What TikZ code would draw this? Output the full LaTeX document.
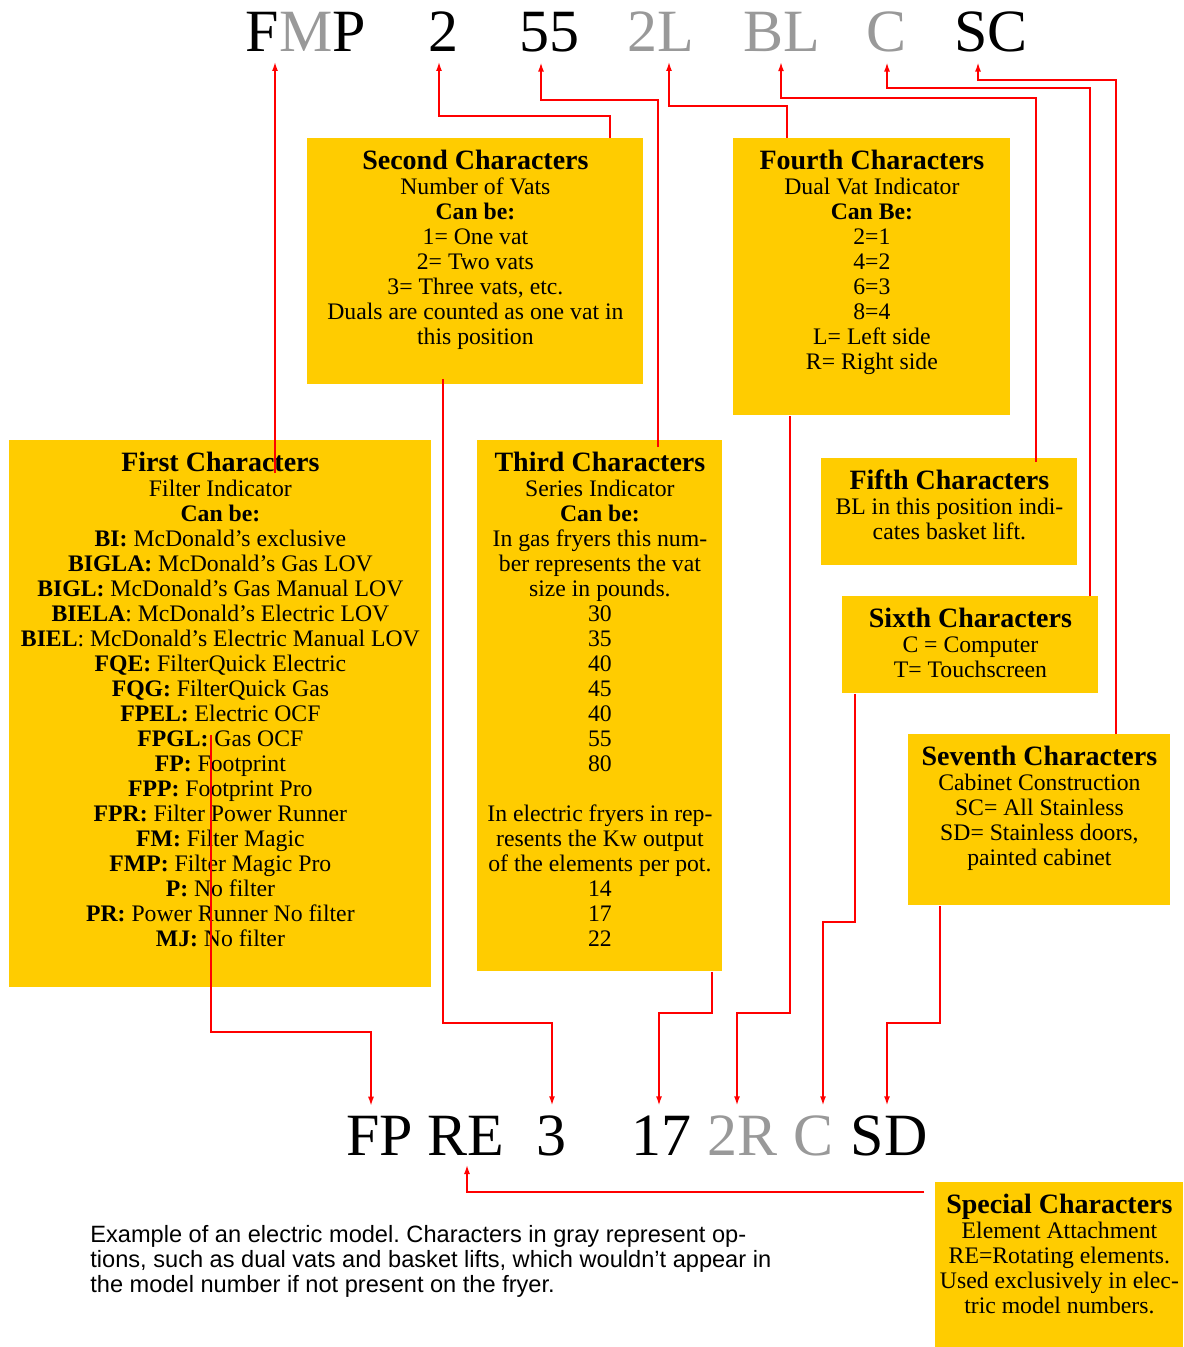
\documentclass[tikz,border=0pt]{standalone}
\usepackage{fontspec}
\setmainfont{Liberation Serif}
\newfontfamily\notefont{Liberation Sans}
\usetikzlibrary{arrows.meta,calc}
\definecolor{cardyellow}{RGB}{255,204,0}
\definecolor{optgray}{RGB}{153,153,153}
\newcommand{\cardtitle}[1]{{\fontsize{14}{14}\selectfont\bfseries #1}}
\frenchspacing

\begin{document}
\begin{tikzpicture}[x=0.5pt,y=-0.5pt,
  card/.style={fill=cardyellow, anchor=north west, inner sep=0pt},
  cardtext/.style={anchor=north, inner xsep=0pt, inner ysep=5.8pt, align=center,
    font=\fontsize{11.85}{12.5}\selectfont},
  bigchar/.style={anchor=base, inner sep=0pt, outer sep=5pt,
    font=\fontsize{30}{30}\selectfont},
  opt/.style={bigchar, text=optgray},
  link/.style={draw=red, line width=0.75pt, -{Latex[length=4.5pt,width=3pt]}}]
  \useasboundingbox (0,0) rectangle (1183,1347);

  % model number on top
  \node[bigchar] (tFMP) at (306,52) {F\textcolor{optgray}{M}P};
  \node[bigchar] (t2) at (443,52) {2};
  \node[bigchar] (t55) at (549,52) {55};
  \node[opt] (t2L) at (661,52) {2L};
  \node[opt] (tBL) at (782,52) {BL};
  \node[opt] (tC) at (886,52) {C};
  \node[bigchar] (tSC) at (991,52) {SC};

  % model number at the bottom
  \node[bigchar] (bFP) at (380,1155) {FP};
  \node[bigchar] (bRE) at (466,1155) {RE};
  \node[bigchar] (b3) at (551,1155) {3};
  \node[bigchar] (b17) at (661,1155) {17};
  \node[opt] (b2R) at (742,1155) {2R};
  \node[opt] (bC) at (813,1155) {C};
  \node[bigchar] (bSD) at (889,1155) {SD};

  % the cards
  \node[card, minimum width=211pt, minimum height=273.5pt] (first) at (9,440) {};
  \node[card, minimum width=168pt, minimum height=123pt] (second) at (307,138) {};
  \node[card, minimum width=122.5pt, minimum height=265.5pt] (third) at (477,440) {};
  \node[card, minimum width=138.5pt, minimum height=138.5pt] (fourth) at (733,138) {};
  \node[card, minimum width=128pt, minimum height=53.5pt] (fifth) at (821,458) {};
  \node[card, minimum width=128pt, minimum height=48.5pt] (sixth) at (842,596) {};
  \node[card, minimum width=131pt, minimum height=85.5pt] (seventh) at (908,734) {};
  \node[card, minimum width=124pt, minimum height=82.5pt] (special) at (935,1182) {};

  \node[cardtext] (firsttext) at (first.north) {\cardtitle{First Characters}\\
    Filter Indicator\\ \textbf{Can be:}\\
    \textbf{BI:} McDonald’s exclusive\\
    \textbf{BIGLA:} McDonald’s Gas LOV\\
    \textbf{BIGL:} McDonald’s Gas Manual LOV\\
    \textbf{BIELA}: McDonald’s Electric LOV\\
    \textbf{BIEL}: McDonald’s Electric Manual LOV\\
    \textbf{FQE:} FilterQuick Electric\\
    \textbf{FQG:} FilterQuick Gas\\
    \textbf{FPEL:} Electric OCF\\
    \textbf{FPGL:} Gas OCF\\
    \textbf{FP:} Footprint\\
    \textbf{FPP:} Footprint Pro\\
    \textbf{FPR:} Filter Power Runner\\
    \textbf{FM:} Filter Magic\\
    \textbf{FMP:} Filter Magic Pro\\
    \textbf{P:} No filter\\
    \textbf{PR:} Power Runner No filter\\
    \textbf{MJ:} No filter};
  \node[cardtext] (secondtext) at (second.north) {\cardtitle{Second Characters}\\
    Number of Vats\\ \textbf{Can be:}\\ 1= One vat\\ 2= Two vats\\
    3= Three vats, etc.\\ Duals are counted as one vat in\\ this position};
  \node[cardtext] (thirdtext) at (third.north) {\cardtitle{Third Characters}\\
    Series Indicator\\ \textbf{Can be:}\\ In gas fryers this num-\\
    ber represents the vat\\ size in pounds.\\
    30\\ 35\\ 40\\ 45\\ 40\\ 55\\ 80\\[12.5pt]
    In electric fryers in rep-\\ resents the Kw output\\
    of the elements per pot.\\ 14\\ 17\\ 22};
  \node[cardtext] (fourthtext) at (fourth.north) {\cardtitle{Fourth Characters}\\
    Dual Vat Indicator\\ \textbf{Can Be:}\\ 2=1\\ 4=2\\ 6=3\\ 8=4\\
    L= Left side\\ R= Right side};
  \node[cardtext] (fifthtext) at (fifth.north) {\cardtitle{Fifth Characters}\\
    BL in this position indi-\\ cates basket lift.};
  \node[cardtext] (sixthtext) at (sixth.north) {\cardtitle{Sixth Characters}\\
    C = Computer\\ T= Touchscreen};
  \node[cardtext] (seventhtext) at (seventh.north) {\cardtitle{Seventh Characters}\\
    Cabinet Construction\\ SC= All Stainless\\ SD= Stainless doors,\\
    painted cabinet};
  \node[cardtext] (specialtext) at (special.north) {\cardtitle{Special Characters}\\
    Element Attachment\\ RE=Rotating elements.\\ Used exclusively in elec-\\
    tric model numbers.};

  \node[anchor=north west, inner sep=0pt, align=left,
    font=\notefont\fontsize{11.8}{12.5}\selectfont] (note) at (90,1225)
    {Example of an electric model. Characters in gray represent op-\\
    tions, such as dual vats and basket lifts, which wouldn’t appear in\\
    the model number if not present on the fryer.};

  % links up to the top row
  \draw[link] ($(first.north -| 275,0)+(0,33)$) -- (tFMP.south -| 275,0);
  \draw[link] (second.north -| 610,0) -- ++(0,-22) -| (t2.south -| 439,0);
  \draw[link] ($(third.north -| 658,0)+(0,7)$) -- ++(0,-347) -| (t55.south -| 541,0);
  \draw[link] (fourth.north -| 787,0) -- ++(0,-32) -| (t2L.south -| 669,0);
  \draw[link] ($(fifth.north -| 1036,0)+(0,4)$) -- ++(0,-364) -| (tBL.south -| 781,0);
  \draw[link] (sixth.north -| 1090,0) -- ++(0,-508) -| (tC.south -| 887,0);
  \draw[link] (seventh.north -| 1116,0) -- ++(0,-654) -| (tSC.south -| 978,0);

  % links down to the bottom row
  \draw[link] ($(first.north -| 211,0)+(0,295)$) -- ++(0,297) -| (bFP.north -| 371,0);
  \draw[link] ($(second.south -| 443,0)+(0,-6)$) -- ++(0,644) -| (b3.north -| 552,0);
  \draw[link] (third.south -| 712,0) -- ++(0,41) -| (b17.north -| 659,0);
  \draw[link] (fourth.south -| 790,0) -- ++(0,597) -| (b2R.north -| 737,0);
  \draw[link] (sixth.south -| 855,0) -- ++(0,228) -| (bC.north -| 823,0);
  \draw[link] (seventh.south -| 940,0) -- ++(0,117) -| (bSD.north -| 887,0);
  \draw[link] ($(special.north west)+(-11,10)$) -| (bRE.south -| 467,0);
\end{tikzpicture}
\end{document}
